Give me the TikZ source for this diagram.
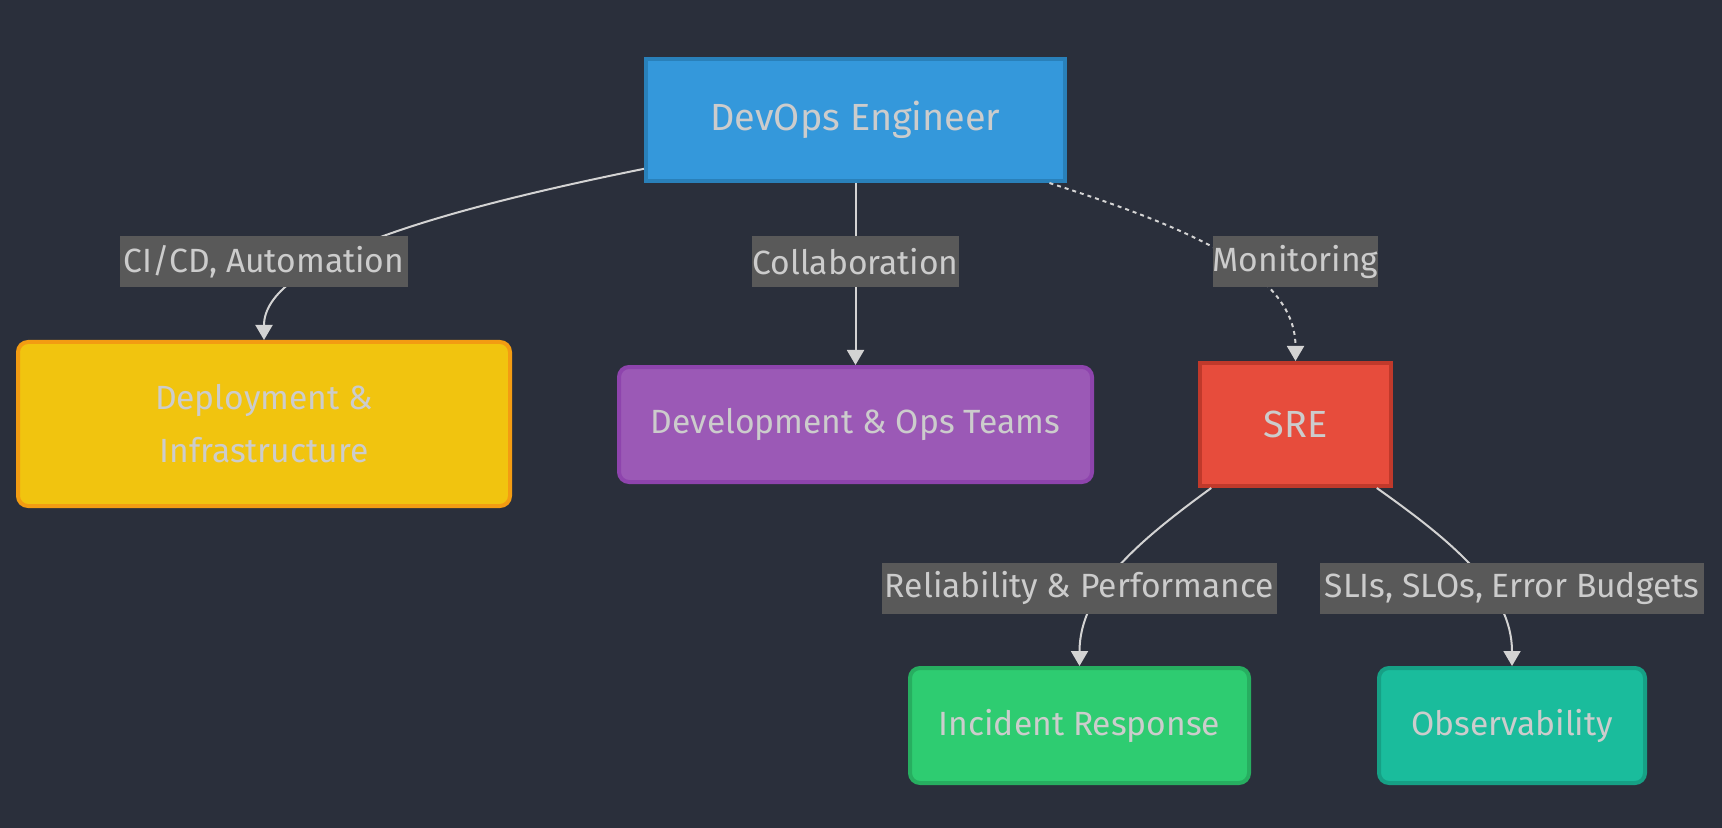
\documentclass[tikz,border=0pt]{standalone}
\usepackage{fontspec}
\setmainfont{Fira Sans}
\usepackage{tikz}
\usetikzlibrary{arrows.meta}

\definecolor{bgdark}{HTML}{2A2F3B}
\definecolor{txtgray}{HTML}{CCCCCC}
\definecolor{lblgray}{HTML}{595959}
\definecolor{edgegray}{HTML}{D3D3D3}
\definecolor{devblue}{HTML}{3498DB}
\definecolor{devblueline}{HTML}{2980B9}
\definecolor{depyellow}{HTML}{F1C40F}
\definecolor{depline}{HTML}{F39C12}
\definecolor{teampurple}{HTML}{9B59B6}
\definecolor{teamline}{HTML}{8E44AD}
\definecolor{srered}{HTML}{E74C3C}
\definecolor{sreline}{HTML}{C0392B}
\definecolor{incgreen}{HTML}{2ECC71}
\definecolor{incline}{HTML}{27AE60}
\definecolor{obsteal}{HTML}{1ABC9C}
\definecolor{obsline}{HTML}{16A085}

\begin{document}
\begin{tikzpicture}
	[x=0.5pt,y=-0.5pt,
	 box/.style={line width=2pt,inner sep=0pt,align=center,text=txtgray,
	   font=\fontsize{16.8}{26.5}\selectfont},
	 bigbox/.style={box,font=\fontsize{18.9}{22}\selectfont},
	 elabel/.style={fill=lblgray,inner sep=0pt,text=txtgray,
	   minimum height=25.5pt,font=\fontsize{16.8}{20}\selectfont},
	 edge/.style={draw=edgegray,line width=1pt,-{Triangle[length=7.5pt,width=8.5pt]}}]
% canvas
\fill[bgdark] (0,0) rectangle (1722,828);
\useasboundingbox (0,0) rectangle (1722,828);
% boxes (px of the reference, halved)
\node[bigbox,draw=devblueline,fill=devblue,minimum width=209.5pt,minimum height=61pt]
  (devops) at (855.5,120) {DevOps Engineer};
\node[box,draw=depline,fill=depyellow,rounded corners=5pt,minimum width=246pt,minimum height=82pt]
  (deploy) at (264,424) {Deployment \&\\Infrastructure};
\node[box,draw=teamline,fill=teampurple,rounded corners=5pt,minimum width=236.5pt,minimum height=57.5pt]
  (teams) at (855.5,424.5) {Development \& Ops Teams};
\node[bigbox,draw=sreline,fill=srered,minimum width=95.5pt,minimum height=61.5pt]
  (sre) at (1295.5,424.5) {SRE};
\node[box,draw=incline,fill=incgreen,rounded corners=5pt,minimum width=169.5pt,minimum height=57.5pt]
  (incident) at (1079.5,725.5) {Incident Response};
\node[box,draw=obsline,fill=obsteal,rounded corners=5pt,minimum width=133pt,minimum height=57.5pt]
  (observ) at (1512,725.5) {Observability};
% connectors, labels go on top of them
\draw[edge] (devops.193) .. controls (430,212) and (264,262) .. (deploy.north);
\draw[edge] (devops.south) -- (teams.north);
\draw[edge,dash pattern=on 2pt off 2pt] (devops.342) .. controls (1180,225) and (1295.5,270) .. (sre.north);
\draw[edge] (sre.217) .. controls (1140,540) and (1079.5,590) .. (incident.north);
\draw[edge] (sre.322) .. controls (1450,540) and (1512,590) .. (observ.north);
\foreach \name/\x/\y/\w/\txt in {lcicd/264/261.5/144/{CI/CD, Automation},
  lcollab/855.5/261.5/103.5/Collaboration,
  lmonit/1295.5/261.5/81.5/Monitoring,
  lrelia/1079.5/588/197.5/Reliability \& Performance,
  lslis/1512/588/192/{SLIs, SLOs, Error Budgets}}
\node[elabel,minimum width=\w pt] (\name) at (\x,\y) {\txt};
\end{tikzpicture}
\end{document}
